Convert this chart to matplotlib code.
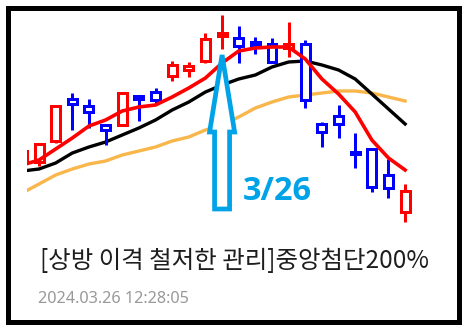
import matplotlib
matplotlib.use("Agg")
from matplotlib import pyplot as plt
from matplotlib.patches import Rectangle, Polygon

# candle data (price levels, one per trading day)
opens = [67, 68, 89, 131, 124, 105, 105, 134, 138, 154, 160, 169,
         194, 192, 188, 186, 182, 186, 106, 114, 78, 81, 55, 18]
closes = [79, 86, 124, 126, 118, 100, 137, 131, 130, 165, 164, 191,
          197, 184, 185, 168, 186, 130, 98, 106, 76, 43, 42, 39]
highs = [80, 87, 125, 137, 131, 106, 138, 135, 142, 169, 168, 197,
         215, 204, 193, 192, 208, 190, 108, 125, 97, 82, 71, 46]
lows = [66, 64, 87, 100, 102, 85, 104, 109, 126, 149, 153, 167,
        181, 167, 176, 167, 173, 122, 83, 92, 62, 38, 32, 8]

# moving averages
ma_short = [65, 70, 81, 92, 104, 110, 119, 123, 125, 133, 142, 152,
            167, 179, 182, 183, 183, 171, 151, 136, 118, 90, 72, 60]
ma_mid = [59, 61, 67, 77, 83, 88, 95, 102, 110, 120, 128, 138,
          145, 151, 155, 163, 168, 169, 165, 160, 151, 136, 121, 106]
ma_long = [37, 46, 55, 61, 66, 69, 75, 79, 83, 89, 93, 100,
           105, 113, 122, 128, 133, 135, 137, 139, 139, 137, 133, 129]

marked_day = 12
marked_label = "3/26"
title = "[상방 이격 철저한 관리]중앙첨단200%"
stamp = "2024.03.26 12:28:05"

W, H = 465, 329
STEP = 16.64  # pixels per candle
X0 = 22.4  # pixel position of first candle


def px(x, y):
    """Pixel position (from top left) to figure fraction"""
    return x / W, 1 - y / H


def draw_candles(ax):
    """Hollow candles, red for up days and blue for down days"""
    lw = 2.16
    for i, (o, h, l, c) in enumerate(zip(opens, highs, lows, closes)):
        color = "#ff0000" if c >= o else "#0000ff"
        ax.plot([i, i], [l, h], color=color, lw=lw, solid_capstyle="butt",
                zorder=2)
        ax.add_patch(Rectangle((i - 0.27, min(o, c)), 0.54, abs(c - o),
                               facecolor="white", edgecolor=color, lw=lw,
                               zorder=3))


def draw_arrow(ax, day):
    """Outlined arrow pointing up at the marked candle"""
    tip = lows[day] - 6
    head = tip - 77
    bottom = tip - 154
    hw = 12.5 / STEP
    sw = 7.5 / STEP
    verts = [(day, tip), (day - hw, head), (day - sw, head),
             (day - sw, bottom), (day + sw, bottom), (day + sw, head),
             (day + hw, head)]
    ax.add_patch(Polygon(verts, closed=True, facecolor="white",
                         edgecolor="#00a2e8", lw=3.4, joinstyle="miter",
                         zorder=5))


fig = plt.figure(figsize=(W / 100, H / 100), dpi=100)
ax = fig.add_axes([27 / W, 0, (440 - 27) / W, 1])
ax.set_xlim((27 - X0) / STEP, (440 - X0) / STEP)
ax.set_ylim(230 - H, 230)
ax.axis("off")

days = list(range(len(opens)))
ax.plot(days, ma_long, color="#f9b64a", lw=2.4, zorder=1)
ax.plot(days, ma_mid, color="#000000", lw=2.4, zorder=1)
ax.plot(days, ma_short, color="#ff0000", lw=2.6, zorder=4)
draw_candles(ax)
draw_arrow(ax, marked_day)

fig.text(*px(243, 192), marked_label, color="#00a2e8", fontsize=23.5,
         fontweight="bold", family=["Open Sans", "DejaVu Sans"],
         ha="left", va="center")
fig.text(*px(40, 261), title, color="#1e1e1e", fontsize=17.6,
         family=["Noto Sans CJK KR", "DejaVu Sans"], ha="left", va="center")
fig.text(*px(38, 299), stamp, color="#999999", fontsize=11.7,
         family=["Noto Sans", "DejaVu Sans"], ha="left", va="center")

x0, y0 = px(7.5, 321.5)
x1, y1 = px(458.5, 7.5)
fig.add_artist(Rectangle((x0, y0), x1 - x0, y1 - y0, fill=False,
                         edgecolor="black", lw=3.6,
                         transform=fig.transFigure))

fig.savefig("out.png", dpi=100)
